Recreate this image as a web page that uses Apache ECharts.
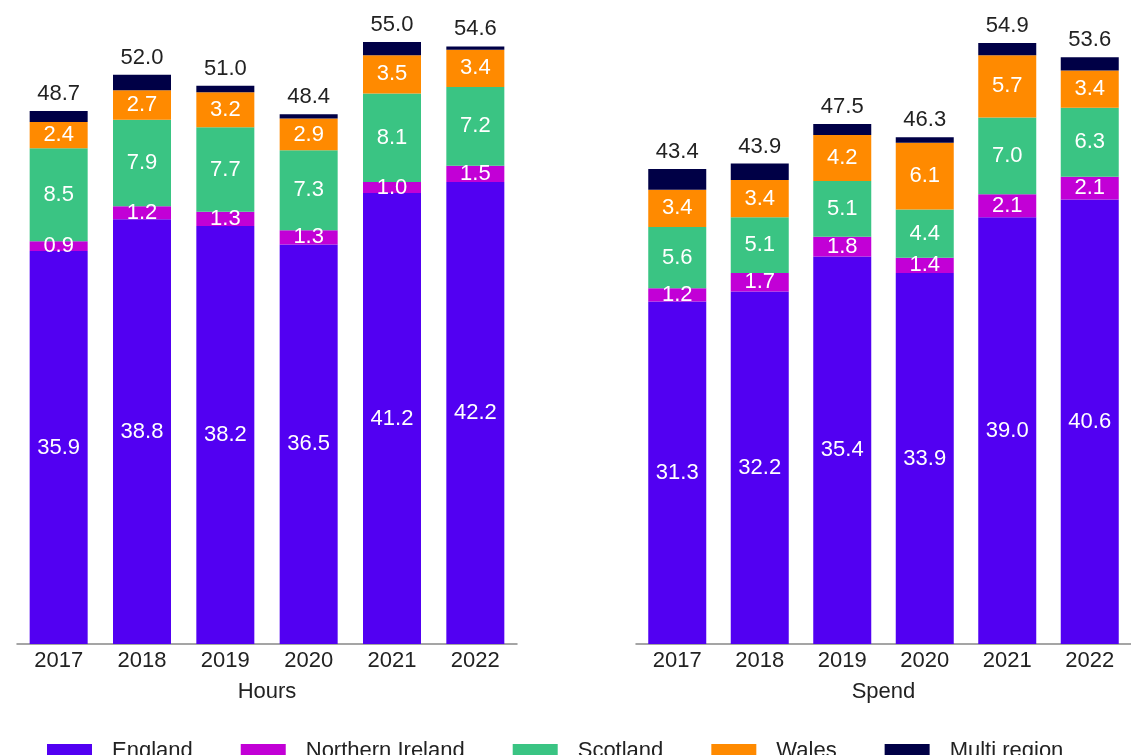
<!DOCTYPE html>
<html>
<head>
<meta charset="utf-8">
<script src="https://cdn.jsdelivr.net/npm/echarts@6/dist/echarts.min.js"></script>
<style>
  html, body { margin: 0; padding: 0; background: #fff; }
  #main { width: 1131px; height: 755px; }
</style>
</head>
<body>
<div id="main"></div>
<script>
// years on both panels
var years = ['2017', '2018', '2019', '2020', '2021', '2022'];
var regions = ['England', 'Northern Ireland', 'Scotland', 'Wales', 'Multi region'];
var colors = ['#5200F2', '#C200D6', '#3AC483', '#FF8A00', '#000046'];

// Hours panel
var hoursEngland  = [35.9, 38.8, 38.2, 36.5, 41.2, 42.2];
var hoursNI       = [0.9, 1.2, 1.3, 1.3, 1.0, 1.5];
var hoursScotland = [8.5, 7.9, 7.7, 7.3, 8.1, 7.2];
var hoursWales    = [2.4, 2.7, 3.2, 2.9, 3.5, 3.4];
var hoursMulti    = [1.0, 1.4, 0.6, 0.4, 1.2, 0.3];

// Spend panel
var spendEngland  = [31.3, 32.2, 35.4, 33.9, 39.0, 40.6];
var spendNI       = [1.2, 1.7, 1.8, 1.4, 2.1, 2.1];
var spendScotland = [5.6, 5.1, 5.1, 4.4, 7.0, 6.3];
var spendWales    = [3.4, 3.4, 4.2, 6.1, 5.7, 3.4];
var spendMulti    = [1.9, 1.5, 1.0, 0.5, 1.1, 1.2];

var font = '"Liberation Sans", Arial, sans-serif';
var fs = 22;

function makeSeries(panel, idx, sets) {
    var out = [];
    sets.forEach(function (vals, i) {
        var s = {
            name: regions[i],
            type: 'bar',
            stack: panel,
            xAxisIndex: idx,
            yAxisIndex: idx,
            barWidth: 58,
            data: vals,
            itemStyle: { color: colors[i] },
            label: {
                show: i < 4,
                position: 'inside',
                color: '#fff',
                fontSize: fs,
                fontFamily: font,
                formatter: function (p) { return p.value.toFixed(1); }
            }
        };
        if (i === 4) {
            // total on top of the stack
            s.label = {
                show: true,
                position: 'top',
                distance: 6,
                color: '#222',
                fontSize: fs,
                fontFamily: font,
                formatter: function (p) {
                    var t = 0;
                    sets.forEach(function (v) { t += v[p.dataIndex]; });
                    return t.toFixed(1);
                }
            };
        }
        out.push(s);
    });
    return out;
}

function xAx(idx, name) {
    return {
        type: 'category',
        gridIndex: idx,
        data: years,
        name: name,
        nameLocation: 'middle',
        nameGap: 37,
        nameTextStyle: { fontSize: fs, color: '#222', fontFamily: font },
        axisLine: { lineStyle: { color: '#888', width: 1.5 } },
        axisTick: { show: false },
        axisLabel: { fontSize: fs, color: '#222', fontFamily: font, margin: 6 }
    };
}

function yAx(idx) {
    return {
        type: 'value',
        gridIndex: idx,
        min: 0,
        max: 55,
        show: false,
        splitLine: { show: false }
    };
}

var option = {
    animation: false,
    textStyle: { fontFamily: font },
    grid: [
        { left: 17, width: 500, top: 42, height: 602 },
        { left: 636, width: 500, top: 42, height: 602 }
    ],
    xAxis: [xAx(0, 'Hours'), xAx(1, 'Spend')],
    yAxis: [yAx(0), yAx(1)],
    legend: {
        data: regions,
        left: 42,
        top: 735,
        itemWidth: 45,
        itemHeight: 14,
        itemGap: 48,
        icon: 'rect',
        textStyle: { fontSize: fs, color: '#222', fontFamily: font, padding: [0, 0, 0, 15] }
    },
    series: [].concat(
        makeSeries('hours', 0, [hoursEngland, hoursNI, hoursScotland, hoursWales, hoursMulti]),
        makeSeries('spend', 1, [spendEngland, spendNI, spendScotland, spendWales, spendMulti])
    )
};

var chart = echarts.init(document.getElementById('main'));
chart.setOption(option);
</script>
</body>
</html>
